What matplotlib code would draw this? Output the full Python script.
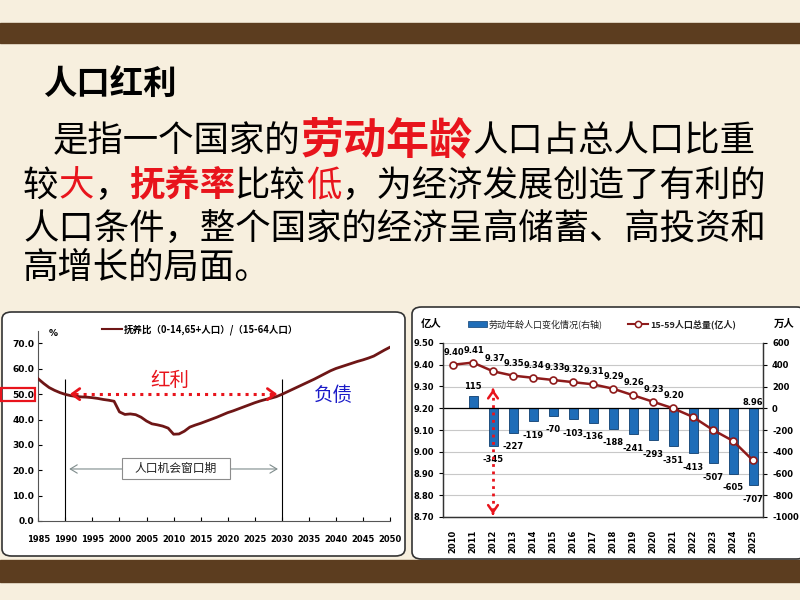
import numpy as np
import matplotlib
matplotlib.use("Agg")
import matplotlib.pyplot as plt
from matplotlib.patches import Rectangle, FancyBboxPatch
from matplotlib.lines import Line2D

plt.rcParams['font.family'] = ['Noto Sans CJK SC', 'DejaVu Sans']

W, H = 800, 600
BG = '#F7EFDE'
BROWN = '#5C3D1F'
RED = '#E8141C'
MAROON = '#6E1616'
LINE_R = '#8E1B1B'
BAR_BLUE = '#1F6DB8'

# ---- left chart: dependency ratio 1985-2050 (%)
years_l = list(range(1985, 2051))
ratio = [56.0, 54.2, 52.6, 51.5, 50.6, 49.9, 49.4, 49.1, 48.9, 48.8,
         48.6, 48.3, 47.9, 47.6, 47.2, 43.0, 42.0, 42.2, 41.9, 40.9,
         39.4, 38.3, 37.9, 37.4, 36.6, 34.2, 34.3, 35.4, 37.0, 37.8,
         38.5, 39.3, 40.1, 40.9, 41.8, 42.7, 43.4, 44.2, 45.0, 45.8,
         46.6, 47.3, 47.9, 48.4, 49.0, 49.9, 50.9, 51.9, 52.9, 53.9,
         54.9, 55.9, 57.0, 58.1, 59.2, 60.1, 60.8, 61.5, 62.2, 62.9,
         63.5, 64.2, 65.0, 66.2, 67.4, 68.5]
left_yticks = [0, 10, 20, 30, 40, 50, 60, 70]
left_xticks = list(range(1985, 2051, 5))

# ---- right chart: working-age population
years_r = [str(y) for y in range(2010, 2026)]
pop_1559 = [9.40, 9.41, 9.37, 9.35, 9.34, 9.33, 9.32, 9.31, 9.29, 9.26,
            9.23, 9.20, 9.16, 9.10, 9.05, 8.96]
pop_change = [np.nan, 115, -345, -227, -119, -70, -103, -136, -188, -241,
              -293, -351, -413, -507, -605, -707]
n_labeled = 12  # point labels shown for 2010-2021, plus the last one
right_yticks_l = [8.70, 8.80, 8.90, 9.00, 9.10, 9.20, 9.30, 9.40, 9.50]
right_yticks_r = [-1000, -800, -600, -400, -200, 0, 200, 400, 600]


def fx(px):
    return px / W


def fy(py):
    return 1 - py / H


fig = plt.figure(figsize=(8, 6), dpi=100, facecolor=BG)

# brown bands
fig.add_artist(Rectangle((0, fy(43)), 1, 20 / H, transform=fig.transFigure,
                         color=BROWN, zorder=-2))
fig.add_artist(Rectangle((0, fy(582)), 1, 22 / H, transform=fig.transFigure,
                         color=BROWN, zorder=-2))

# white panels
for x0, y0, x1, y1 in [(2, 312, 405, 556), (412, 307, 806, 559)]:
    fig.add_artist(FancyBboxPatch((fx(x0), fy(y1)), fx(x1 - x0), (y1 - y0) / H,
                                  boxstyle='round,pad=0,rounding_size=0.012',
                                  transform=fig.transFigure, fc='white',
                                  ec='#333333', lw=1.2, zorder=-1))

# ---- slide text
renderer = fig.canvas.get_renderer()


def draw_runs(x_px, y_px, runs):
    x = x_px
    for txt, color, size, weight in runs:
        t = fig.text(fx(x), fy(y_px), txt, color=color, fontsize=size,
                     fontweight=weight, ha='left', va='center')
        x += t.get_window_extent(renderer).width


fig.text(fx(43), fy(85), '人口红利', fontsize=24, fontweight='bold',
         ha='left', va='center', color='black')

BS = 25.5
draw_runs(53, 141, [('是指一个国家的', 'black', BS, 'normal'),
                    ('劳动年龄', RED, 31, 'bold'),
                    ('人口占总人口比重', 'black', BS, 'normal')])
draw_runs(23, 186, [('较', 'black', BS, 'normal'),
                    ('大', RED, BS, 'normal'),
                    ('，', 'black', BS, 'normal'),
                    ('抚养率', RED, BS, 'bold'),
                    ('比较', 'black', BS, 'normal'),
                    ('低', RED, BS, 'normal'),
                    ('，为经济发展创造了有利的', 'black', BS, 'normal')])
draw_runs(23, 229, [('人口条件，整个国家的经济呈高储蓄、高投资和', 'black', BS, 'normal')])
draw_runs(23, 268, [('高增长的局面。', 'black', BS, 'normal')])

# ---- left chart
axl = fig.add_axes([fx(38.3), fy(521), fx(390 - 38.3), (521 - 330.7) / H])
axl.set_facecolor('none')
axl.plot(years_l, ratio, color=MAROON, lw=2.0, zorder=3)
axl.set_xlim(1985, 2050)
axl.set_ylim(0, 75)
axl.set_yticks(left_yticks)
axl.set_yticklabels([f'{v:.1f}' for v in left_yticks], fontsize=6.5,
                    fontweight='bold', family='DejaVu Sans')
axl.set_xticks(left_xticks)
axl.set_xticklabels([str(v) for v in left_xticks], fontsize=6,
                    fontweight='bold', family='DejaVu Sans')
axl.tick_params(axis='both', direction='in', length=3, width=0.8)
axl.tick_params(axis='x', pad=10)
axl.tick_params(axis='y', pad=3)
for s in ['top', 'right']:
    axl.spines[s].set_visible(False)
for s in ['left', 'bottom']:
    axl.spines[s].set_color('#555555')
    axl.spines[s].set_linewidth(0.8)

axl.vlines([1990, 2030], 0, 56, color='black', lw=0.8)
axl.plot([1991.8, 2028.2], [50, 50], color=RED, ls=':', lw=2.2)
for a, b in [(1990.3, 1992.5), (2029.7, 2027.5)]:
    axl.annotate('', xy=(a, 50), xytext=(b, 50),
                 arrowprops=dict(arrowstyle='->,head_length=0.55,head_width=0.4',
                                 color=RED, lw=2.0))
axl.text(2009.3, 55.3, '红利', color=RED, fontsize=14, ha='center', va='center')
axl.text(2039.5, 49.3, '负债', color='#1B1BC8', fontsize=14, ha='center', va='center')

axl.annotate('', xy=(1990.2, 20.5), xytext=(2029.8, 20.5),
             arrowprops=dict(arrowstyle='<->,head_length=0.5,head_width=0.3',
                             color='#7F8C8C', lw=0.8))
axl.add_patch(Rectangle((2000.4, 16.6), 20.0, 8.1, fc='white', ec='#8C8C8C',
                        lw=0.8, zorder=4))
axl.text(2010.4, 20.6, '人口机会窗口期', fontsize=8.5, ha='center', va='center',
         color='#222222', zorder=5)
axl.text(1987.7, 74, '%', fontsize=6.5, fontweight='bold', ha='center',
         va='center', family='DejaVu Sans')

fig.add_artist(Line2D([fx(101.7), fx(121.7)], [fy(329.3)] * 2,
                      transform=fig.transFigure, color=MAROON, lw=1.5))
fig.text(fx(124), fy(329.3), '抚养比（0-14,65+人口）/（15-64人口）', fontsize=6.8,
         fontweight='bold', ha='left', va='center')
fig.add_artist(Rectangle((fx(1), fy(400.7)), fx(34), 13 / H,
                         transform=fig.transFigure, fc='none', ec=RED, lw=1.6))

# ---- right chart
axr = fig.add_axes([fx(443), fy(517), fx(763 - 443), (517 - 343) / H])
axb = axr.twinx()
axr.set_zorder(axb.get_zorder() + 1)
axr.patch.set_visible(False)
axb.patch.set_visible(False)

x = np.arange(len(years_r))
axb.bar(x, pop_change, width=0.45, color=BAR_BLUE, edgecolor='#0E3E70',
        lw=0.6, zorder=2)
axb.set_ylim(-1000, 600)
axb.set_yticks(right_yticks_r)
axb.set_yticklabels([str(v) for v in right_yticks_r], fontsize=6,
                    fontweight='bold', family='DejaVu Sans')
axb.set_axisbelow(True)
axb.yaxis.grid(True, color='#C8C8C8', lw=0.8)
axb.axhline(0, color='black', lw=0.9, zorder=3)
for xi, v in zip(x, pop_change):
    if np.isnan(v):
        continue
    off = 7 if v > 0 else -10
    axb.annotate(f'{int(v)}', (xi, v), xytext=(0, off), textcoords='offset points',
                 ha='center', va='center', fontsize=6, fontweight='bold',
                 family='DejaVu Sans')

axr.plot(x, pop_1559, color=LINE_R, lw=1.8, marker='o', ms=5,
         mfc='white', mec=LINE_R, mew=1.2, zorder=4)
axr.set_ylim(8.70, 9.50)
axr.set_xlim(-0.5, len(years_r) - 0.5)
axr.set_yticks(right_yticks_l)
axr.set_yticklabels([f'{v:.2f}' for v in right_yticks_l], fontsize=6,
                    fontweight='bold', family='DejaVu Sans')
axr.set_xticks(x)
axr.set_xticklabels(years_r, rotation=90, fontsize=6, fontweight='bold',
                    family='DejaVu Sans')
axr.tick_params(axis='x', length=0, pad=9)
axr.tick_params(axis='y', length=3, width=0.8)
axb.tick_params(axis='y', length=3, width=0.8)
for a in (axr, axb):
    a.spines['top'].set_visible(False)
    for s in ['left', 'right', 'bottom']:
        a.spines[s].set_color('#333333')
        a.spines[s].set_linewidth(0.9)

for xi in range(n_labeled):
    axr.annotate(f'{pop_1559[xi]:.2f}', (xi, pop_1559[xi]), xytext=(1, 9),
                 textcoords='offset points', ha='center', va='center',
                 fontsize=6, fontweight='bold', family='DejaVu Sans')
axr.text(x[-1], 9.225, f'{pop_1559[-1]:.2f}', ha='center', va='center',
         fontsize=6, fontweight='bold', family='DejaVu Sans')

axr.plot([2, 2], [9.285, 8.715], color=RED, ls=':', lw=2.0, zorder=5)
for a, b in [(9.30, 9.27), (8.70, 8.73)]:
    axr.annotate('', xy=(2, a), xytext=(2, b),
                 arrowprops=dict(arrowstyle='->,head_length=0.5,head_width=0.35',
                                 color=RED, lw=1.8), annotation_clip=False)

fig.text(fx(431), fy(324), '亿人', fontsize=7.5, fontweight='bold', ha='center', va='center')
fig.text(fx(784), fy(324), '万人', fontsize=7.5, fontweight='bold', ha='center', va='center')
fig.add_artist(Rectangle((fx(468), fy(327)), fx(19), 6 / H, transform=fig.transFigure,
                         fc=BAR_BLUE, ec='#0E3E70', lw=0.5))
fig.text(fx(489), fy(324), '劳动年龄人口变化情况(右轴)', fontsize=6.5,
         ha='left', va='center', color='#222222')
fig.add_artist(Line2D([fx(628), fx(648)], [fy(324)] * 2, transform=fig.transFigure,
                      color=LINE_R, lw=1.5))
fig.add_artist(Line2D([fx(638)], [fy(324)], transform=fig.transFigure,
                      color=LINE_R, marker='o', ms=4.5, mfc='white', mec=LINE_R, mew=1.1))
fig.text(fx(650), fy(324), '15-59人口总量(亿人)', fontsize=6.5, fontweight='bold',
         ha='left', va='center', color='#222222')

fig.savefig('out.png', dpi=100, facecolor=BG)
